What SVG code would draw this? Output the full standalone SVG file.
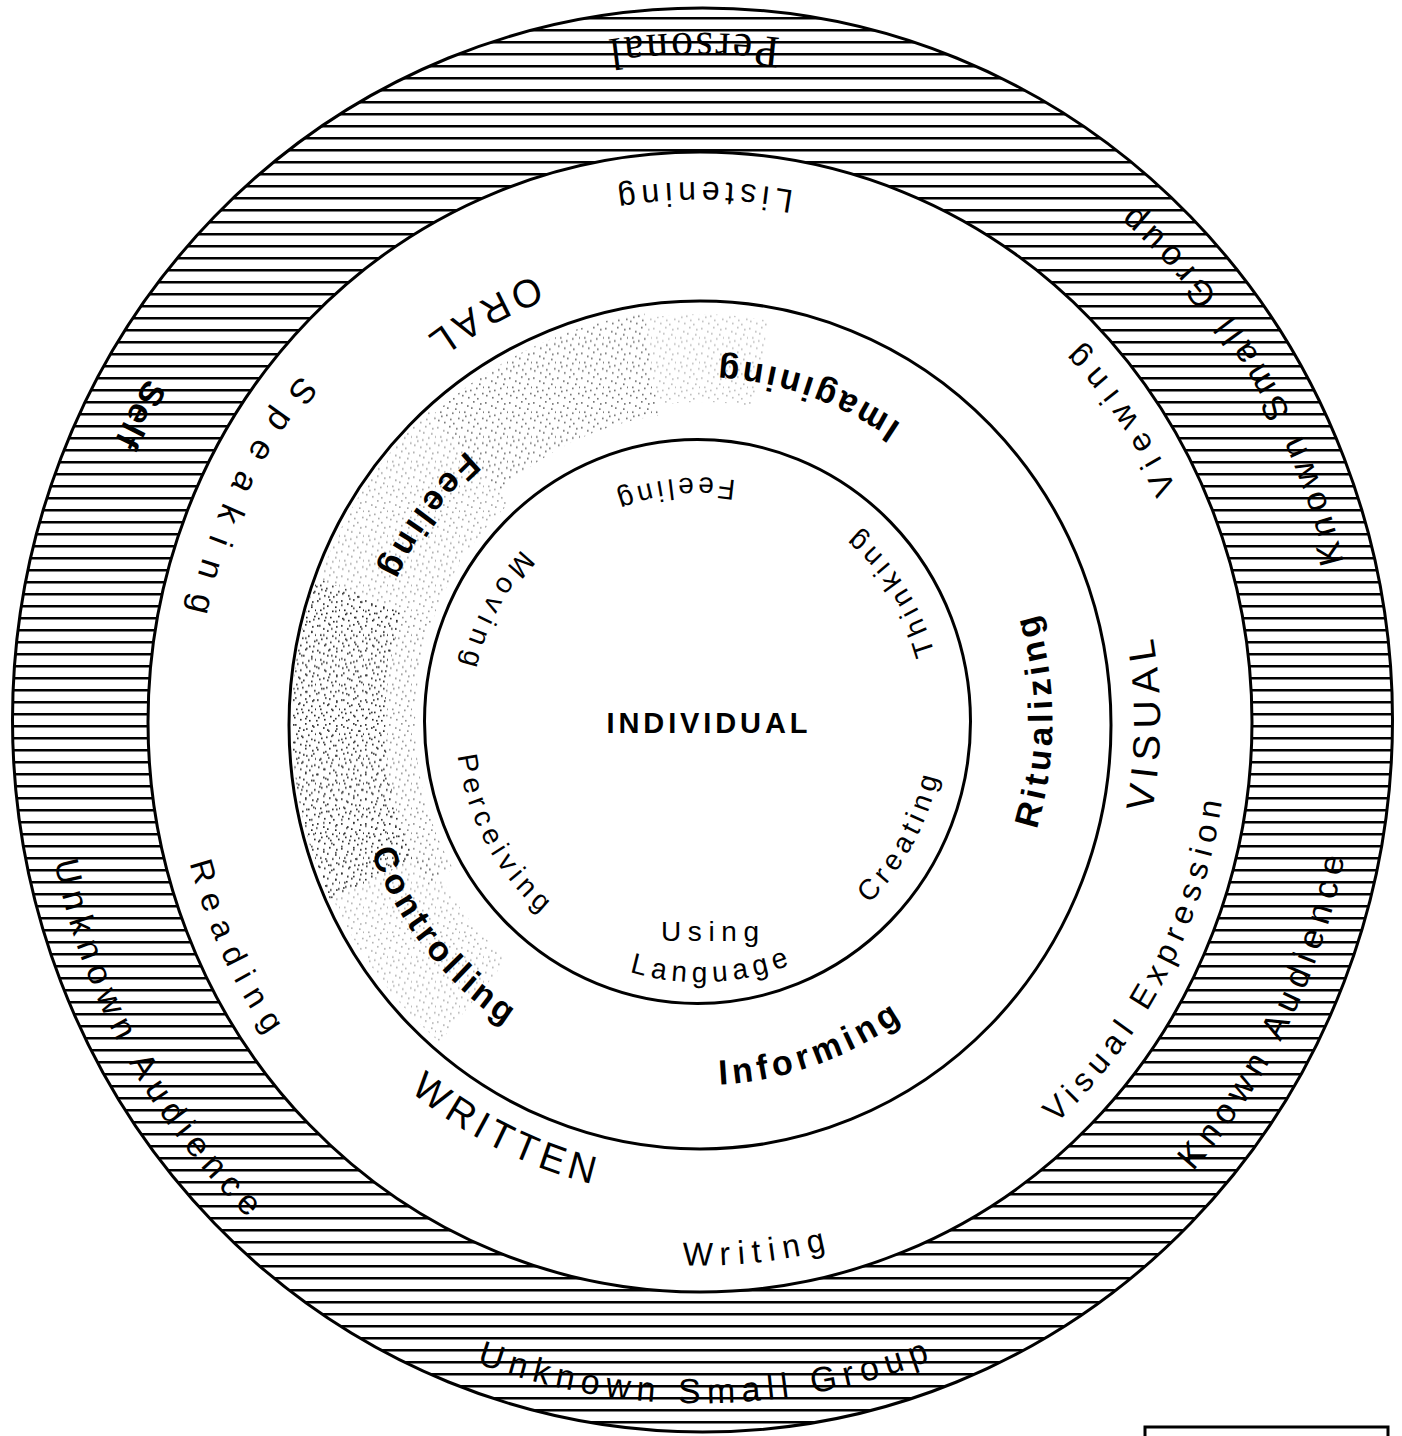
<svg xmlns="http://www.w3.org/2000/svg" xmlns:xlink="http://www.w3.org/1999/xlink" width="1402" height="1436" viewBox="0 0 1402 1436">
<style>
.ring{fill:none;stroke:#000;stroke-width:3}
.hand{font-family:"Liberation Sans","DejaVu Sans",sans-serif;font-size:34px;fill:#000}
.serif{font-family:"Liberation Serif","DejaVu Serif",serif;font-size:44px;fill:#000}
.lc{font-family:"Liberation Sans",Arial,sans-serif;font-size:32px;fill:#000}
.lcl{font-family:"Liberation Sans",Arial,sans-serif;font-size:34px;fill:#000}
.uc{font-family:"Liberation Sans",Arial,sans-serif;font-size:38px;fill:#000}
.bd{font-family:"Liberation Sans",Arial,sans-serif;font-size:34px;font-weight:bold;fill:#000}
.sm{font-family:"Liberation Sans",Arial,sans-serif;font-size:28px;fill:#000}
.ctr{font-family:"Liberation Sans",Arial,sans-serif;font-size:29px;font-weight:bold;fill:#000}
</style>
<defs>
<pattern id="hatch" patternUnits="userSpaceOnUse" width="60" height="12">
<rect x="0" y="5" width="60" height="2.5" fill="#000"/>
</pattern>
<pattern id="stip" patternUnits="userSpaceOnUse" width="24" height="24">
<g fill="#222">
<rect x="1" y="2" width="1.6" height="1.6"/><rect x="7" y="5" width="1.6" height="1.6"/>
<rect x="13" y="1" width="1.6" height="1.6"/><rect x="19" y="8" width="1.6" height="1.6"/>
<rect x="4" y="11" width="1.6" height="1.6"/><rect x="10" y="14" width="1.6" height="1.6"/>
<rect x="16" y="12" width="1.6" height="1.6"/><rect x="22" y="17" width="1.6" height="1.6"/>
<rect x="2" y="19" width="1.6" height="1.6"/><rect x="8" y="21" width="1.6" height="1.6"/>
<rect x="14" y="18" width="1.6" height="1.6"/><rect x="20" y="3" width="1.6" height="1.6"/>
<rect x="11" y="7" width="1.6" height="1.6"/><rect x="5" y="15" width="1.6" height="1.6"/>
<rect x="17" y="22" width="1.6" height="1.6"/><rect x="23" y="11" width="1.6" height="1.6"/>
</g>
</pattern>
<pattern id="stip2" patternUnits="userSpaceOnUse" width="30" height="26">
<g fill="#333">
<rect x="3" y="4" width="1.6" height="1.6"/><rect x="15" y="2" width="1.6" height="1.6"/>
<rect x="26" y="6" width="1.6" height="1.6"/><rect x="9" y="10" width="1.6" height="1.6"/>
<rect x="21" y="13" width="1.6" height="1.6"/><rect x="1" y="16" width="1.6" height="1.6"/>
<rect x="13" y="19" width="1.6" height="1.6"/><rect x="25" y="22" width="1.6" height="1.6"/>
<rect x="6" y="24" width="1.6" height="1.6"/><rect x="18" y="8" width="1.6" height="1.6"/>
</g>
</pattern>
<path id="pPersonal" d="M664.9,-64 A668,668 0 0 0 -665.9,-52.4"/>
<path id="pSelf" d="M252.4,-594.6 A646,646 0 0 0 -351.8,541.8"/>
<path id="pUA" d="M-371.9,-545.2 A660,660 0 0 0 271.6,601.5"/>
<path id="pUSG" d="M-657.2,61 A660,660 0 0 0 657.8,54.1"/>
<path id="pKA" d="M-241.2,612.2 A658,658 0 0 0 343.8,-561"/>
<path id="pKSG" d="M391.9,533.5 A662,662 0 0 0 -293.3,-593.5"/>
<path id="pListening" d="M521.5,-40.1 A523,523 0 0 0 -520.5,-51"/>
<path id="pORAL" d="M386.1,-255.5 A463,463 0 0 0 -424.6,184.6"/>
<path id="pSpeaking" d="M187.1,-487.3 A522,522 0 0 0 -268.8,447.5"/>
<path id="pReading" d="M-264,-457.3 A528,528 0 0 0 180.6,496.2"/>
<path id="pWRITTEN" d="M-428.6,-167.1 A460,460 0 0 0 393.1,239"/>
<path id="pWriting" d="M-517.3,100.6 A527,527 0 0 0 526.9,-9.2"/>
<path id="pVE" d="M-206.3,486 A528,528 0 0 0 287.5,-442.8"/>
<path id="pVISUAL" d="M36.9,458.5 A460,460 0 0 0 43.3,-458"/>
<path id="pViewing" d="M336.6,405.5 A527,527 0 0 0 -261.1,-457.8"/>
<path id="pImagining" d="M341.5,85.2 A352,352 0 0 0 -321.6,-143.2"/>
<path id="pFeelingB" d="M183.9,-300.1 A352,352 0 0 0 -233.2,263.6"/>
<path id="pRitualizing" d="M30.7,350.7 A352,352 0 0 0 30.7,-350.7"/>
<path id="pControlling" d="M-243.2,-254.5 A352,352 0 0 0 195.3,292.9"/>
<path id="pInforming" d="M-321.6,143.2 A352,352 0 0 0 341.5,-85.2"/>
<path id="pFeeling" d="M232.6,-45.2 A237,237 0 0 0 -237,4.1"/>
<path id="pThinking" d="M149.5,192.8 A244,244 0 0 0 -113.8,-215.8"/>
<path id="pMoving" d="M96.1,-224.3 A244,244 0 0 0 -133.6,204.2"/>
<path id="pPerceiving" d="M-134.7,-203.5 A244,244 0 0 0 97.3,223.8"/>
<path id="pCreating" d="M-101.2,222 A244,244 0 0 0 138.2,-201.1"/>
<path id="pLanguage" d="M-250,32 A252,252 0 0 0 251.7,11.9"/>
</defs>
<rect width="1402" height="1436" fill="#fff"/>
<g id="hatched-ring">
<path fill="url(#hatch)" fill-rule="evenodd" d="M12.5,720 A690,712 0 1 0 1392.5,720 A690,712 0 1 0 12.5,720 Z M148,722 A552,570 0 1 0 1252,722 A552,570 0 1 0 148,722 Z"/>
</g>
<g id="stipple" transform="translate(700,722) scale(1,1.032)">
<path fill="url(#stip)" d="M-369.8,172.4 A408,408 0 0 1 -383.4,-139.5 L-296,-107.7 A315,315 0 0 0 -285.5,133.1 Z"/>
<path fill="url(#stip2)" d="M-369.8,172.4 A408,408 0 0 1 -383.4,-139.5 L-296,-107.7 A315,315 0 0 0 -285.5,133.1 Z"/>
<path fill="url(#stip)" opacity="0.5" d="M-272.8,157.5 A315,315 0 0 1 -296,-107.7 L-267.8,-97.5 A285,285 0 0 0 -246.8,142.5 Z"/>
<path fill="url(#stip)" opacity="0.4" d="M-380.6,-138.5 A405,405 0 0 1 -271,-301 L-190.7,-211.8 A285,285 0 0 0 -267.8,-97.5 Z"/>
<path fill="url(#stip)" opacity="0.65" d="M-267.6,-297.2 A400,400 0 0 1 -55.7,-396.1 L-41.8,-297.1 A300,300 0 0 0 -200.7,-222.9 Z"/>
<path fill="url(#stip)" opacity="0.3" d="M-55,-391.2 A395,395 0 0 1 68.6,-389 L53.8,-305.3 A310,310 0 0 0 -43.2,-307 Z"/>
<path fill="url(#stip)" opacity="0.35" d="M-260.3,310.2 A405,405 0 0 1 -367.1,171.2 L-271.9,126.8 A300,300 0 0 0 -192.8,229.8 Z"/>
</g>
<g id="rings">
<ellipse class="ring" cx="702.5" cy="720" rx="690" ry="712"/>
<ellipse class="ring" cx="700" cy="722" rx="552" ry="570"/>
<ellipse class="ring" cx="700" cy="725" rx="411" ry="424"/>
<ellipse class="ring" cx="697.5" cy="721.5" rx="273" ry="282"/>
</g>
<g id="labels" transform="translate(700,722) scale(1,1.032)" text-anchor="middle">
<g id="audience-ring">
<text class="serif"><textPath xlink:href="#pPersonal" href="#pPersonal" startOffset="50%" textLength="173" lengthAdjust="spacing">Personal</textPath></text>
<text class="hand" font-weight="bold"><textPath href="#pSelf" xlink:href="#pSelf" startOffset="50%" textLength="70" lengthAdjust="spacing">Self</textPath></text>
<text class="hand"><textPath href="#pUA" xlink:href="#pUA" startOffset="50%" textLength="402" lengthAdjust="spacing">Unknown Audience</textPath></text>
<text class="hand"><textPath href="#pUSG" xlink:href="#pUSG" startOffset="50%" textLength="463" lengthAdjust="spacing">Unknown Small Group</textPath></text>
<text class="hand"><textPath href="#pKA" xlink:href="#pKA" startOffset="50%" textLength="344" lengthAdjust="spacing">Known Audience</textPath></text>
<text class="hand"><textPath href="#pKSG" xlink:href="#pKSG" startOffset="50%" textLength="411" lengthAdjust="spacing">Known Small Group</textPath></text>
</g>
<g id="mode-ring">
<text class="lc"><textPath href="#pListening" xlink:href="#pListening" startOffset="50%" textLength="178" lengthAdjust="spacing">Listening</textPath></text>
<text class="uc"><textPath href="#pORAL" xlink:href="#pORAL" startOffset="50%" textLength="124" lengthAdjust="spacing">ORAL</textPath></text>
<text class="lcl"><textPath href="#pSpeaking" xlink:href="#pSpeaking" startOffset="50%" textLength="258" lengthAdjust="spacing">Speaking</textPath></text>
<text class="lc"><textPath href="#pReading" xlink:href="#pReading" startOffset="50%" textLength="185" lengthAdjust="spacing">Reading</textPath></text>
<text class="uc"><textPath href="#pWRITTEN" xlink:href="#pWRITTEN" startOffset="50%" textLength="205" lengthAdjust="spacing">WRITTEN</textPath></text>
<text class="lc"><textPath href="#pWriting" xlink:href="#pWriting" startOffset="50%" textLength="145" lengthAdjust="spacing">Writing</textPath></text>
<text class="lc"><textPath href="#pVE" xlink:href="#pVE" startOffset="50%" textLength="361" lengthAdjust="spacing">Visual Expression</textPath></text>
<text class="uc"><textPath href="#pVISUAL" xlink:href="#pVISUAL" startOffset="50%" textLength="170" lengthAdjust="spacing">VISUAL</textPath></text>
<text class="lc"><textPath href="#pViewing" xlink:href="#pViewing" startOffset="50%" textLength="172" lengthAdjust="spacing">Viewing</textPath></text>
</g>
<g id="function-ring">
<text class="bd"><textPath href="#pImagining" xlink:href="#pImagining" startOffset="50%" textLength="195" lengthAdjust="spacing">Imagining</textPath></text>
<text class="bd"><textPath href="#pFeelingB" xlink:href="#pFeelingB" startOffset="50%" textLength="146" lengthAdjust="spacing">Feeling</textPath></text>
<text class="bd"><textPath href="#pRitualizing" xlink:href="#pRitualizing" startOffset="50%" textLength="212" lengthAdjust="spacing">Ritualizing</textPath></text>
<text class="bd"><textPath href="#pControlling" xlink:href="#pControlling" startOffset="50%" textLength="218" lengthAdjust="spacing">Controlling</textPath></text>
<text class="bd"><textPath href="#pInforming" xlink:href="#pInforming" startOffset="50%" textLength="195" lengthAdjust="spacing">Informing</textPath></text>
</g>
<g id="process-ring">
<text class="sm"><textPath href="#pFeeling" xlink:href="#pFeeling" startOffset="50%" textLength="122" lengthAdjust="spacing">Feeling</textPath></text>
<text class="sm"><textPath href="#pThinking" xlink:href="#pThinking" startOffset="50%" textLength="145" lengthAdjust="spacing">Thinking</textPath></text>
<text class="sm"><textPath href="#pMoving" xlink:href="#pMoving" startOffset="50%" textLength="128" lengthAdjust="spacing">Moving</textPath></text>
<text class="sm"><textPath href="#pPerceiving" xlink:href="#pPerceiving" startOffset="50%" textLength="178" lengthAdjust="spacing">Perceiving</textPath></text>
<text class="sm"><textPath href="#pCreating" xlink:href="#pCreating" startOffset="50%" textLength="143" lengthAdjust="spacing">Creating</textPath></text>
<text class="sm"><textPath href="#pLanguage" xlink:href="#pLanguage" startOffset="50%" textLength="163" lengthAdjust="spacing">Language</textPath></text>
</g>
</g>
<g id="center">
<text class="sm" x="710" y="941" text-anchor="middle" textLength="98" lengthAdjust="spacing">Using</text>
<text class="ctr" x="707" y="733" text-anchor="middle" textLength="201" lengthAdjust="spacing">INDIVIDUAL</text>
</g>
<g id="box">
<path d="M1145,1436 V1427 H1388 V1436" fill="none" stroke="#000" stroke-width="3"/>
</g>
</svg>
